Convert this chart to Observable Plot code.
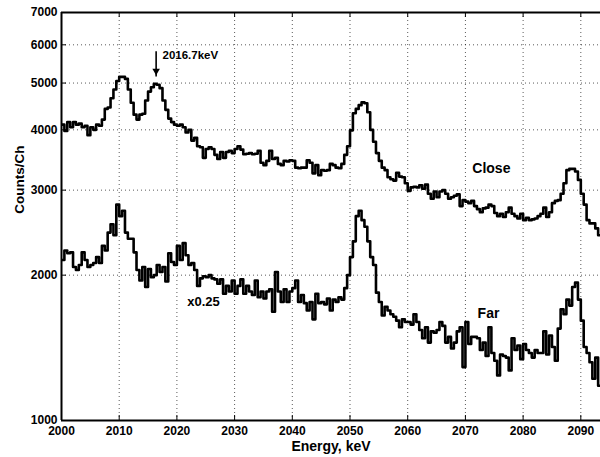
<!DOCTYPE html>
<html><head><meta charset="utf-8">
<script src="https://cdn.jsdelivr.net/npm/d3@7"></script>
<script src="https://cdn.jsdelivr.net/npm/@observablehq/plot@0.6"></script>
<style>html,body{margin:0;padding:0;background:#fff}#chart svg{display:block}#chart svg text{font-weight:bold}</style>
</head><body><div id="chart"></div>
<script>
// Histogram bins (keV)
const binStart = 2000;
const binWidth = 0.5;

// Counts per channel, "Close" spectrum
const closeCounts = [
  4100, 3980, 4150, 4050, 4150, 4100, 4120, 4050, 4080, 3900,
  4050, 4000, 4100, 4080, 4200, 4420, 4450, 4650, 4850, 5050,
  5150, 5150, 5100, 4850, 4550, 4300, 4200, 4300, 4320, 4600,
  4800, 4900, 4980, 4960, 4880, 4600, 4400, 4220, 4150, 4100,
  4080, 4100, 4050, 3950, 4000, 3800, 3850, 3700, 3680, 3500,
  3650, 3680, 3650, 3550, 3480, 3600, 3500, 3600, 3620, 3580,
  3650, 3700, 3640, 3560, 3570, 3580, 3560, 3570, 3620, 3420,
  3380, 3450, 3620, 3480, 3500, 3400, 3380, 3450, 3440, 3460,
  3450, 3340, 3330, 3340, 3340, 3460, 3420, 3250, 3380, 3220,
  3300, 3290, 3300, 3400, 3380, 3340, 3330, 3400, 3550, 3700,
  3990, 4330, 4420, 4500, 4560, 4540, 4350, 4000, 3780, 3580,
  3450, 3340, 3300, 3190, 3160, 3140, 3260, 3200, 3190, 3100,
  2990, 3040, 3050, 3040, 3070, 3020, 3080, 2950, 2880, 2980,
  2900, 2980, 3000, 2950, 2880, 2900, 2920, 2940, 2780, 2860,
  2840, 2820, 2850, 2780, 2740, 2700, 2750, 2760, 2800, 2780,
  2690, 2650, 2680, 2640, 2700, 2760, 2680, 2650, 2620, 2680,
  2600, 2630, 2600, 2610, 2620, 2650, 2680, 2760, 2640, 2700,
  2820, 2850, 2860, 2950, 3100, 3300, 3320, 3320, 3280, 3150,
  2950, 2800, 2600, 2560, 2560, 2500, 2420
];

// Counts per channel, "Far" spectrum (x0.25)
const farCounts = [
  2150, 2250, 2220, 2230, 2080, 2050, 2100, 2230, 2150, 2080,
  2100, 2120, 2180, 2120, 2300, 2250, 2450, 2550, 2420, 2800,
  2650, 2720, 2450, 2380, 2380, 2230, 2050, 1950, 2080, 1890,
  2060, 1980, 2000, 2100, 2030, 2080, 1940, 2220, 2130, 2100,
  2300, 2150, 2330, 2200, 2100, 2120, 2050, 1900, 1970, 1990,
  1980, 2000, 1970, 1960, 1920, 1960, 1830, 1900, 1850, 1950,
  1830, 1900, 1960, 1830, 1900, 1850, 1820, 1950, 1800, 1850,
  1790, 1850, 1870, 1680, 2030, 1850, 1760, 1870, 1760, 1850,
  1880, 1950, 1760, 1820, 1750, 1690, 1760, 1620, 1830, 1750,
  1760, 1740, 1790, 1690, 1780, 1760, 1800, 1780, 1880, 2000,
  2180, 2350, 2650, 2720, 2600, 2520, 2350, 2180, 2100, 1840,
  1760, 1650, 1720, 1690, 1660, 1640, 1610, 1560, 1620, 1600,
  1600, 1580, 1660, 1600, 1540, 1480, 1560, 1450, 1530, 1520,
  1540, 1600, 1570, 1450, 1490, 1410, 1450, 1530, 1560, 1290,
  1600, 1440, 1490, 1490, 1480, 1400, 1450, 1360, 1560, 1380,
  1330, 1240, 1370, 1360, 1350, 1270, 1480, 1400, 1430, 1340,
  1440, 1400, 1380, 1350, 1400, 1380, 1380, 1530, 1370, 1500,
  1420, 1330, 1550, 1700, 1660, 1780, 1730, 1890, 1930, 1780,
  1610, 1420, 1380, 1320, 1220, 1350, 1180
];

// Axes
const xDomain = [2000, 2093.41];
const yDomain = [1000, 7000];
const xTicks = [2000, 2010, 2020, 2030, 2040, 2050, 2060, 2070, 2080, 2090];
const yTicks = [1000, 2000, 3000, 4000, 5000, 6000, 7000];
const xLabel = "Energy, keV";
const yLabel = "Counts/Ch";

// Annotations
const peakArrow = [{energy: 2016.4, from: 5820, to: 5160}];
const peakLabel = [{energy: 2017.5, counts: 5710, text: "2016.7keV"}];
const seriesLabels = [
  {energy: 2074.5, counts: 3330, text: "Close", size: 14},
  {energy: 2074.0, counts: 1665, text: "Far", size: 14},
  {energy: 2024.6, counts: 1764, text: "x0.25", size: 13}
];

function steps(counts) {
  const pts = counts.map((c, i) => ({energy: binStart + i * binWidth, counts: c}));
  pts.push({energy: binStart + counts.length * binWidth, counts: counts[counts.length - 1]});
  return pts;
}

const font = "'Liberation Sans', Arial, Helvetica, sans-serif";
const gridStyle = {stroke: "black", strokeOpacity: 0.65, strokeDasharray: "1,3", strokeWidth: 1};

const chart = Plot.plot({
  width: 600,
  height: 457,
  marginLeft: 61,
  marginRight: 0,
  marginTop: 12,
  marginBottom: 37,
  x: {domain: xDomain},
  y: {type: "log", domain: yDomain},
  style: {fontFamily: font, fontWeight: "bold", fontSize: "12px", color: "black", background: "white"},
  marks: [
    Plot.gridX(xTicks.slice(1), gridStyle),
    Plot.gridY(yTicks.slice(1, -1), gridStyle),
    Plot.line(steps(closeCounts), {x: "energy", y: "counts", curve: "step-after", stroke: "black", strokeWidth: 2.6, clip: true}),
    Plot.line(steps(farCounts), {x: "energy", y: "counts", curve: "step-after", stroke: "black", strokeWidth: 2.6, clip: true}),
    // inward ticks
    Plot.tickX(xTicks, {x: d => d, insetTop: 403, stroke: "black", strokeWidth: 1}),
    Plot.tickX(xTicks, {x: d => d, insetBottom: 403, stroke: "black", strokeWidth: 1}),
    Plot.tickY(yTicks, {y: d => d, insetRight: 534, stroke: "black", strokeWidth: 1}),
    // frame
    Plot.ruleY([yDomain[0]], {stroke: "black", strokeWidth: 2}),
    Plot.ruleY([yDomain[1]], {stroke: "black", strokeWidth: 2}),
    Plot.ruleX([xDomain[0]], {stroke: "black", strokeWidth: 2}),
    // tick labels
    Plot.axisX(xTicks, {tickSize: 0, tickPadding: 6, label: null, fontSize: 12, fontWeight: "bold", tickFormat: d => String(d)}),
    Plot.axisY(yTicks, {tickSize: 0, tickPadding: 4, label: null, fontSize: 12, fontWeight: "bold", tickFormat: d => String(d)}),
    // axis titles
    Plot.text([xLabel], {frameAnchor: "bottom", lineAnchor: "middle", textAnchor: "middle", dy: 26, fontSize: 14, fontWeight: "bold", fill: "black"}),
    Plot.text([yLabel], {frameAnchor: "left", lineAnchor: "middle", textAnchor: "middle", dx: -42, dy: -37, rotate: -90, fontSize: 13.5, fontWeight: "bold", fill: "black"}),
    // arrow annotation
    Plot.link(peakArrow, {x1: "energy", x2: "energy", y1: "from", y2: "to", stroke: "black", strokeWidth: 1.6}),
    Plot.dot(peakArrow, {x: "energy", y: "to", symbol: "triangle2", r: 3.6, rotate: 180, dy: -5.5, fill: "black", stroke: "none"}),
    Plot.text(peakLabel, {x: "energy", y: "counts", text: "text", textAnchor: "start", fontSize: 11.5, fontWeight: "bold", fill: "black"}),
    Plot.text(seriesLabels, {x: "energy", y: "counts", text: "text", fontSize: d => d.size, fontWeight: "bold", fill: "black"})
  ]
});

document.getElementById("chart").appendChild(chart);
</script>
</body></html>
